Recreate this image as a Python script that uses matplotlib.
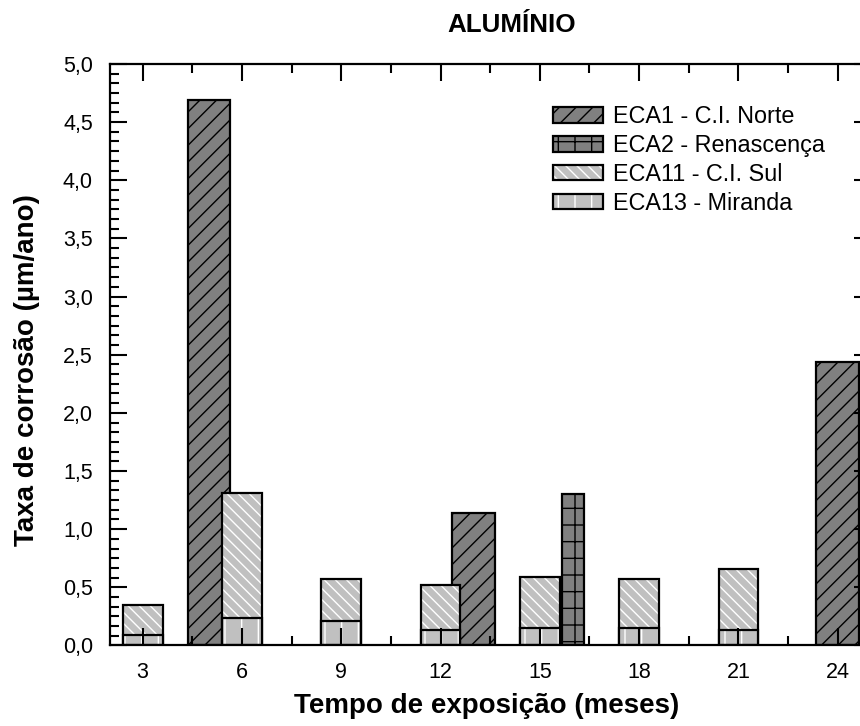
import matplotlib
matplotlib.use("Agg")
import matplotlib.pyplot as plt
from matplotlib.patches import Patch
from matplotlib.ticker import AutoMinorLocator, FuncFormatter

plt.rcParams['font.family'] = ['Liberation Sans', 'DejaVu Sans']
plt.rcParams['hatch.linewidth'] = 1.0

# dados
meses = [3, 6, 9, 12, 15, 18, 21]
eca11 = [0.35, 1.31, 0.57, 0.52, 0.59, 0.57, 0.66]   # ECA11 - C.I. Sul
eca13 = [0.09, 0.24, 0.21, 0.13, 0.15, 0.15, 0.13]   # ECA13 - Miranda
x_eca1 = [5, 13, 24]
eca1 = [4.69, 1.14, 2.44]                            # ECA1 - C.I. Norte
x_eca2 = [16]
eca2 = [1.30]                                        # ECA2 - Renascenca
xticks = [3, 6, 9, 12, 15, 18, 21, 24]

escuro = '#808080'
claro = '#c0c0c0'

fig = plt.figure(figsize=(8.6, 7.26), dpi=100)
# o eixo passa da borda direita, como no original (cortado)
ax = fig.add_axes([0.1274, 0.1109, 0.8852, 0.801])


def barra(x, h, w, face, hatch, hcor):
    ax.bar(x, h, w, color=face, edgecolor=hcor, hatch=hatch, linewidth=0)
    ax.bar(x, h, w, fill=False, edgecolor='black', linewidth=1.6)


barra(x_eca1, eca1, 1.29, escuro, '//', 'black')
barra(x_eca2, eca2, 0.65, escuro, '+', 'black')
barra(meses, eca11, 1.2, claro, '\\\\\\', 'white')
barra(meses, eca13, 1.2, claro, '|', 'white')

ax.set_xlim(2, 25)
ax.set_ylim(0, 5)
ax.set_xticks(xticks)
ax.set_yticks([0, 0.5, 1, 1.5, 2, 2.5, 3, 3.5, 4, 4.5, 5])
ax.xaxis.set_minor_locator(AutoMinorLocator(2))
ax.yaxis.set_minor_locator(AutoMinorLocator(6))
ax.yaxis.set_major_formatter(FuncFormatter(lambda v, p: ('%.1f' % v).replace('.', ',')))
ax.tick_params(which='both', direction='in', top=True, right=True, width=1.5,
               labelsize=15.5)
ax.tick_params(which='major', length=12)
ax.tick_params(which='minor', length=6.5)
ax.tick_params(axis='x', pad=12)
ax.tick_params(axis='y', pad=12)
for s in ax.spines.values():
    s.set_linewidth(1.6)

fig.text(511.7 / 860, 1 - 31.7 / 726, 'ALUMÍNIO', ha='center', va='baseline',
         fontsize=18.7, fontweight='bold')
fig.text(487 / 860, 1 - 713 / 726, 'Tempo de exposição (meses)', ha='center',
         va='baseline', fontsize=20, fontweight='bold')
fig.text(27 / 860, 1 - 370 / 726, 'Taxa de corrosão (µm/ano)', ha='center',
         va='center', rotation=90, fontsize=20, fontweight='bold')

nomes = ['ECA1 - C.I. Norte', 'ECA2 - Renascença', 'ECA11 - C.I. Sul', 'ECA13 - Miranda']
estilos = [(escuro, '//', 'black'), (escuro, '+', 'black'),
           (claro, '\\\\\\', 'white'), (claro, '|', 'white')]
handles = []
for face, hatch, hcor in estilos:
    handles.append((Patch(facecolor=face, edgecolor=hcor, hatch=hatch, linewidth=0),
                    Patch(fill=False, edgecolor='black', linewidth=1.6)))
ax.legend(handles, nomes, loc='upper left', bbox_to_anchor=(0.5824, 0.929),
          frameon=False, fontsize=16.8, handlelength=2.15, handleheight=0.64,
          handletextpad=0.43, labelspacing=0.25, borderpad=0, borderaxespad=0)

fig.savefig('out.png', dpi=100)
